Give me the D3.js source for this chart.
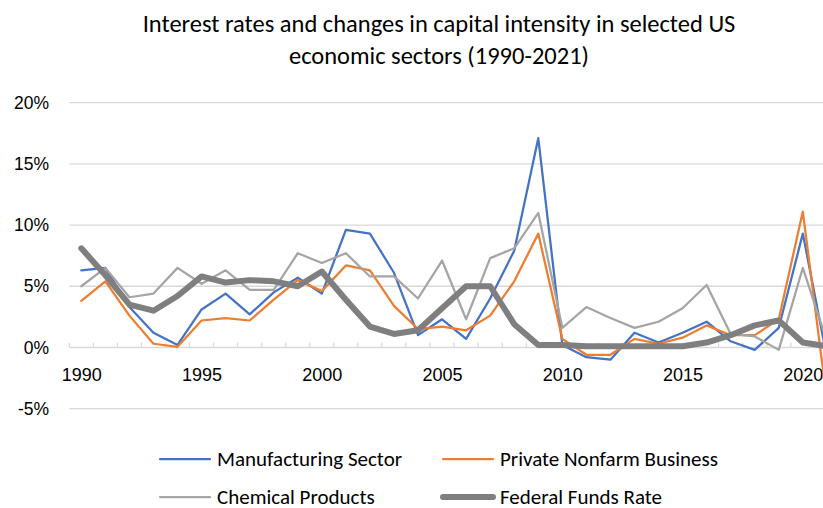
<!DOCTYPE html>
<html>
<head>
<meta charset="utf-8">
<script src="https://cdn.jsdelivr.net/npm/d3@7"></script>
<style>
  body { margin: 0; background: #fff; }
  svg { display: block; font-family: Carlito, Calibri, Lato, sans-serif; }
  .axis text { fill: #000; }
</style>
</head>
<body>
<div id="chart"></div>
<script>
// values, in percent
var years = d3.range(1990, 2022);

var manufacturing = [6.3, 6.5, 3.3, 1.2, 0.2, 3.1, 4.4, 2.7, 4.5, 5.7, 4.4, 9.6, 9.3, 6.1, 1.0, 2.3,
                     0.7, 4.0, 7.9, 17.1, 0.2, -0.8, -1.0, 1.2, 0.4, 1.2, 2.1, 0.5, -0.2, 1.6, 9.3, -0.8];
var nonfarm = [3.8, 5.4, 2.6, 0.3, 0.05, 2.2, 2.4, 2.2, 3.9, 5.5, 4.6, 6.7, 6.3, 3.4, 1.5, 1.7,
               1.4, 2.6, 5.4, 9.3, 0.7, -0.6, -0.6, 0.7, 0.3, 0.8, 1.8, 1.0, 1.0, 2.3, 11.1, -4.3];
var chemical = [5.0, 6.5, 4.1, 4.4, 6.5, 5.2, 6.3, 4.7, 4.7, 7.7, 6.9, 7.7, 5.8, 5.8, 4.0, 7.1,
                2.3, 7.3, 8.1, 11.0, 1.6, 3.3, 2.4, 1.6, 2.1, 3.2, 5.1, 1.1, 0.9, -0.2, 6.5, 0.5];
var fedFunds = [8.1, 5.9, 3.5, 3.0, 4.2, 5.8, 5.3, 5.5, 5.4, 5.0, 6.2, 3.9, 1.7, 1.1, 1.4, 3.2,
                5.0, 5.0, 1.9, 0.2, 0.2, 0.1, 0.1, 0.1, 0.1, 0.1, 0.4, 1.0, 1.8, 2.2, 0.4, 0.1];

var yTicks = [-5, 0, 5, 10, 15, 20];
var xTicks = [1990, 1995, 2000, 2005, 2010, 2015, 2020];

var seriesNames = ['Manufacturing Sector', 'Private Nonfarm Business', 'Chemical Products', 'Federal Funds Rate'];
var seriesColors = ['#4472C4', '#ED7D31', '#A5A5A5', '#7F7F7F'];
var seriesWidths = [2.25, 2.25, 2.25, 6];

var global_width = 823,
    global_height = 508;

var svg = d3.select('#chart')
            .append('svg')
            .attr('width', global_width)
            .attr('height', global_height);

// plot area runs past the right edge of the picture, as in the reference
var xScale = d3.scaleBand().domain(years).range([69.3, 69.3 + 32 * 24.05]).padding(0);
var yScale = d3.scaleLinear().domain([-5, 20]).range([408.6, 102.7]);
var cx = function(y){ return xScale(y) + xScale.bandwidth() / 2; };

//Title
var title = svg.append('text')
   .attr('x', 439)
   .attr('text-anchor', 'middle')
   .attr('font-size', '24.5px')
   .attr('fill', '#000');
title.append('tspan').attr('x', 439).attr('y', 32).text('Interest rates and changes in capital intensity in selected US');
title.append('tspan').attr('x', 439).attr('y', 64).text('economic sectors (1990-2021)');

//Gridlines
svg.append('g')
   .selectAll('line')
   .data(yTicks.filter(function(d){ return d !== 0; }))
   .enter()
   .append('line')
   .attr('x1', 69.3)
   .attr('x2', global_width)
   .attr('y1', function(d){ return yScale(d); })
   .attr('y2', function(d){ return yScale(d); })
   .attr('stroke', '#D9D9D9')
   .attr('stroke-width', 1.3);

//y axis labels
var yAxis = d3.axisLeft(yScale)
              .tickValues(yTicks)
              .tickSize(0)
              .tickPadding(0)
              .tickFormat(function(d){ return d + '%'; });

svg.append('g')
   .attr('class', 'axis')
   .attr('transform', 'translate(49,0)')
   .call(yAxis)
   .call(function(g){ g.select('.domain').remove(); })
   .selectAll('text')
   .attr('font-size', '17.5px')
   .attr('font-family', null);

//x axis line at zero, with category tick marks
var y0 = yScale(0);
svg.append('line')
   .attr('x1', 69.3)
   .attr('x2', global_width)
   .attr('y1', y0)
   .attr('y2', y0)
   .attr('stroke', '#D9D9D9')
   .attr('stroke-width', 1.5);

svg.append('g')
   .selectAll('line')
   .data(years)
   .enter()
   .append('line')
   .attr('x1', function(d){ return xScale(d); })
   .attr('x2', function(d){ return xScale(d); })
   .attr('y1', y0 - 5)
   .attr('y2', y0)
   .attr('stroke', '#D9D9D9')
   .attr('stroke-width', 1.3);

var xAxis = d3.axisBottom(d3.scaleLinear().domain([1990, 2021]).range([cx(1990), cx(2021)]))
              .tickValues(xTicks)
              .tickSize(0)
              .tickPadding(21)
              .tickFormat(d3.format('d'));

svg.append('g')
   .attr('class', 'axis')
   .attr('transform', 'translate(0,' + y0 + ')')
   .call(xAxis)
   .call(function(g){ g.select('.domain').remove(); })
   .selectAll('text')
   .attr('font-size', '18px')
   .attr('font-family', null);

//Lines
var allSeries = [manufacturing, nonfarm, chemical, fedFunds];

var line = d3.line()
             .x(function(d, i){ return cx(years[i]); })
             .y(function(d){ return yScale(d); });

for (var k = 0; k < allSeries.length; k++){
    svg.append('path')
       .datum(allSeries[k])
       .attr('fill', 'none')
       .attr('stroke', seriesColors[k])
       .attr('stroke-width', seriesWidths[k])
       .attr('stroke-linejoin', 'round')
       .attr('stroke-linecap', 'round')
       .attr('d', line);
}

//Legend
var legendPos = [[160, 459], [443, 459], [160, 497], [443, 497]];
for (var m = 0; m < seriesNames.length; m++){
    var lg = svg.append('g').attr('transform', 'translate(' + legendPos[m][0] + ',' + legendPos[m][1] + ')');
    lg.append('line')
      .attr('x1', 0).attr('x2', 50)
      .attr('y1', 0).attr('y2', 0)
      .attr('stroke', seriesColors[m])
      .attr('stroke-width', seriesWidths[m])
      .attr('stroke-linecap', 'round');
    lg.append('text')
      .attr('x', 57)
      .attr('y', 7)
      .attr('font-size', '21px')
      .attr('fill', '#000')
      .text(seriesNames[m]);
}
</script>
</body>
</html>
